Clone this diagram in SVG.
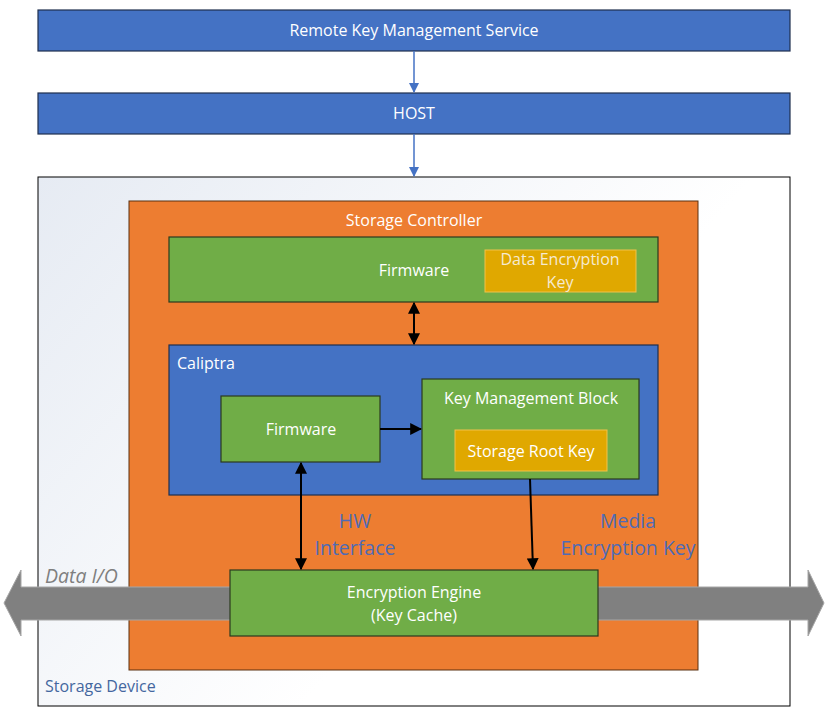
<svg xmlns="http://www.w3.org/2000/svg" width="827" height="708" viewBox="0 0 827 708">
<style>
text{font-family:"Open Sans","Liberation Sans",sans-serif;}
.w{fill:#FFFFFF;font-size:16px;}
.c{text-anchor:middle;}
.blue{fill:#4472C4;stroke:#1F2F4F;stroke-width:1.2;}
.green{fill:#70AD47;stroke:#2A3A1E;stroke-width:1.2;}
.gold{fill:#E0A800;stroke:#F2C24A;stroke-width:1;}
.lbl{fill:#4F6BB5;font-size:19.5px;}
.k{stroke:#000;stroke-width:2;fill:none;}
</style>
<defs>
<linearGradient id="bg" x1="0" y1="0" x2="1" y2="0.6">
<stop offset="0" stop-color="#E6EBF3"/>
<stop offset="0.7" stop-color="#FFFFFF"/>
</linearGradient>
<marker id="ab" viewBox="0 0 10 10" refX="9" refY="5" markerWidth="12" markerHeight="10" orient="auto-start-reverse" markerUnits="userSpaceOnUse"><path d="M0,0 L10,5 L0,10 z" fill="#4472C4"/></marker>
<marker id="ak" viewBox="0 0 10 10" refX="9" refY="5" markerWidth="12" markerHeight="12" orient="auto-start-reverse" markerUnits="userSpaceOnUse"><path d="M0,0 L10,5 L0,10 z" fill="#000"/></marker>
</defs>

<g id="remote-kms">
<rect x="38" y="10" width="752" height="41" class="blue"/>
<text x="414" y="36" class="w c">Remote Key Management Service</text>
</g>
<g id="host">
<rect x="38" y="93" width="752" height="41" class="blue"/>
<text x="414" y="119" class="w c">HOST</text>
</g>

<g id="storage-device">
<rect x="38" y="177" width="752" height="529" fill="url(#bg)" stroke="#000" stroke-width="1"/>
<text x="45" y="692" fill="#44679F" font-size="16">Storage Device</text>
</g>

<g id="storage-controller">
<rect x="129" y="201" width="569" height="469" fill="#ED7D31" stroke="#5A3010" stroke-width="1"/>
<text x="414" y="226" class="w c">Storage Controller</text>
</g>

<g id="sc-firmware">
<rect x="169" y="237" width="489" height="65" class="green"/>
<text x="414" y="276" class="w c">Firmware</text>
</g>
<g id="data-encryption-key">
<rect x="485" y="250" width="151" height="42" class="gold"/>
<text x="560" y="265" fill="#F6EAD0" font-size="16" class="c">Data Encryption</text>
<text x="560" y="288" fill="#F6EAD0" font-size="16" class="c">Key</text>
</g>

<g id="caliptra">
<rect x="169" y="345" width="489" height="150" class="blue"/>
<text x="177" y="369" class="w">Caliptra</text>
</g>
<g id="caliptra-firmware">
<rect x="221" y="396" width="159" height="66" class="green"/>
<text x="301" y="435" class="w c">Firmware</text>
</g>
<g id="key-management-block">
<rect x="422" y="379" width="217" height="100" class="green"/>
<text x="531" y="404" class="w c">Key Management Block</text>
</g>
<g id="storage-root-key">
<rect x="455" y="430" width="152" height="41" class="gold"/>
<text x="531" y="457" class="w c">Storage Root Key</text>
</g>

<g id="data-io">
<path d="M4,603 L21,570 L21,587 L808,587 L808,570 L824,603 L808,636 L808,620 L21,620 L21,636 Z" fill="#808080" stroke="#A6A6A6" stroke-width="1"/>
<text x="45" y="583" fill="#7F7F7F" font-size="19.5" font-style="italic">Data I/O</text>
</g>

<g id="encryption-engine">
<rect x="230" y="570" width="368" height="66" class="green"/>
<text x="414" y="598" class="w c">Encryption Engine</text>
<text x="414" y="621" class="w c">(Key Cache)</text>
</g>

<g id="labels">
<text x="355" y="528" class="lbl c">HW</text>
<text x="355" y="555" class="lbl c">Interface</text>
<text x="628" y="528" class="lbl c">Media</text>
<text x="628" y="555" class="lbl c">Encryption Key</text>
</g>

<g id="connectors">
<line x1="414" y1="51" x2="414" y2="92" stroke="#4472C4" stroke-width="1.5" marker-end="url(#ab)"/>
<line x1="414" y1="134" x2="414" y2="176" stroke="#4472C4" stroke-width="1.5" marker-end="url(#ab)"/>
<line x1="414" y1="303" x2="414" y2="344" class="k" marker-start="url(#ak)" marker-end="url(#ak)"/>
<line x1="380" y1="429" x2="421" y2="429" class="k" marker-end="url(#ak)"/>
<line x1="301" y1="463" x2="301" y2="569" class="k" marker-start="url(#ak)" marker-end="url(#ak)"/>
<line x1="530" y1="479" x2="533" y2="569" class="k" marker-end="url(#ak)"/>
</g>
</svg>
